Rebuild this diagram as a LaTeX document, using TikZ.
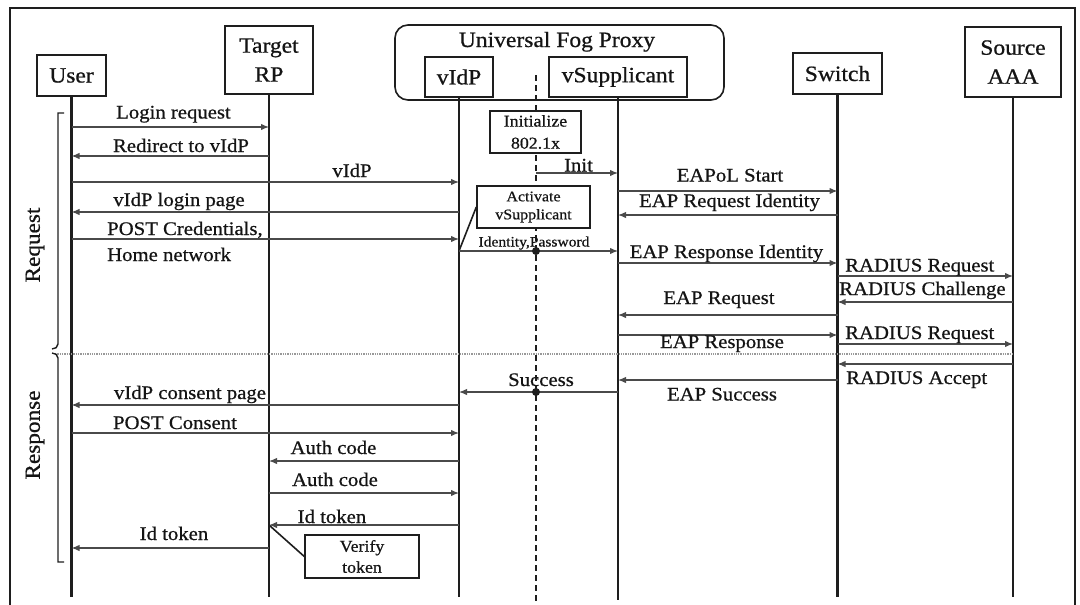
\documentclass[tikz,border=0pt]{standalone}
\usepackage{fontspec}
\setmainfont{Liberation Serif}[FakeStretch=1.08, FakeBold=0.7]
\usetikzlibrary{arrows.meta}

\definecolor{ink}{HTML}{141414}
\definecolor{wire}{HTML}{4A4A4A}
\definecolor{life}{HTML}{1E1E1E}
\definecolor{sep}{HTML}{999999}

\tikzset{
  lbl/.style={font=\fontsize{19.2}{21}\selectfont, inner sep=0pt, text=ink},
  hdrbox/.style={draw=life, line width=1.6pt, fill=white, inner sep=0pt,
    font=\fontsize{21.8}{29}\selectfont, text=ink, align=center},
  notebox/.style={draw=life, line width=1.4pt, fill=white, inner sep=0pt,
    text=ink, align=center},
  lifeline/.style={draw=life, line width=2.3pt},
  msgarrow/.style={draw=wire, line width=1.3pt, -{Latex[length=8pt,width=6.5pt]}},
  linkline/.style={draw=life, line width=1.6pt},
  bracket/.style={draw=life, line width=1.4pt},
  sidelbl/.style={font=\fontsize{21.5}{24}\selectfont, text=ink, rotate=90, inner sep=0pt},
}

\newcommand\sqmsg[3]{\draw[msgarrow] (#1.center |- 0,#3) -- (#2.center |- 0,#3);}

\begin{document}
\begin{tikzpicture}[x=1pt, y=-1pt]
\useasboundingbox (0,0) rectangle (1080,605);

% page frame
\draw[draw=life, line width=1.3pt] (10,605) -- (10,8) -- (1075,8) -- (1075,605);

% participants
\node[hdrbox, minimum width=69pt, minimum height=41pt] (u) at (71.5,75.5) {User};
\node[hdrbox, minimum width=88pt, minimum height=68pt] (rp) at (269,60) {Target\\RP};
\node[draw=life, line width=1.6pt, rounded corners=13pt, minimum width=329pt,
      minimum height=75pt, inner sep=0pt] (proxy) at (559.5,62.5) {};
\node[font=\fontsize{21.8}{24}\selectfont, text=ink, inner sep=0pt, anchor=base]
      (ptitle) at (557,47) {Universal Fog Proxy};
\coordinate (fog) at (536,75);
\draw[draw=life, line width=2pt, dash pattern=on 6pt off 4pt] (fog) -- (fog |- 0,605);
\node[hdrbox, minimum width=68pt, minimum height=40pt] (vidp) at (459,77) {vIdP};
\node[hdrbox, minimum width=138pt, minimum height=40pt] (vsup) at (618,77) {vSupplicant};
\node[hdrbox, minimum width=89pt, minimum height=41pt] (sw) at (837.5,73.5) {Switch};
\node[hdrbox, minimum width=96pt, minimum height=70pt] (aaa) at (1013,62) {Source\\AAA};

% lifelines
\draw[lifeline] (u.south) -- (u.south |- 0,597);
\draw[lifeline] (rp.south) -- (rp.south |- 0,597);
\draw[lifeline] (vidp.south) -- (vidp.south |- 0,597);
\draw[lifeline] (vsup.south) -- (vsup.south |- 0,600);
\draw[lifeline] (sw.south) -- (sw.south |- 0,597);
\draw[lifeline] (aaa.south) -- (aaa.south |- 0,597);

% phase separator
\draw[draw=sep, line width=1.3pt, densely dotted] (55,354) -- (1012,354);

% phase brackets
\draw[bracket] (64,113) -- (58,113) -- (58,344) to[out=-90,in=0] (52,349);
\draw[bracket] (52,353) to[out=0,in=90] (58,358) -- (58,562) -- (64,562);
\node[sidelbl] (req) at (35,245) {Request};
\node[sidelbl] (resp) at (35,435) {Response};

% internal proxy notes
\node[notebox, minimum width=91pt, minimum height=42pt,
      font=\fontsize{16.5}{22}\selectfont] (init) at (535.5,132) {Initialize\\802.1x};
\node[notebox, minimum width=113pt, minimum height=42pt,
      font=\fontsize{14.8}{18}\selectfont] (act) at (533.5,207) {Activate\\vSupplicant};
\node[notebox, minimum width=114pt, minimum height=43pt,
      font=\fontsize{16.5}{21}\selectfont] (ver) at (362,556.5) {Verify\\token};

% request phase
\sqmsg{u}{rp}{127}
\node[lbl, anchor=base] at (173.5,118.5) {Login request};
\sqmsg{rp}{u}{156}
\node[lbl, anchor=base] at (181,152) {Redirect to vIdP};
\sqmsg{u}{vidp}{182}
\node[lbl, anchor=base] at (352,177) {vIdP};
\sqmsg{vidp}{u}{212}
\node[lbl, anchor=base] at (179,206) {vIdP login page};
\sqmsg{u}{vidp}{239}
\node[lbl, anchor=base west] at (107,235) {POST Credentials,};
\node[lbl, anchor=base west] at (107,261) {Home network};

\draw[msgarrow] (fog |- 0,173) -- (vsup.center |- 0,173);
\node[lbl, anchor=base] at (578.5,171.5) {Init};

\draw[linkline] (vidp.center |- 0,251) -- (act.west);
\sqmsg{vidp}{vsup}{251}
\node[font=\fontsize{14.4}{16}\selectfont, text=ink, inner sep=0pt, anchor=base]
      at (534,246.5) {Identity,Password};
\fill[life] (fog |- 0,251) circle[radius=4pt];

\sqmsg{vsup}{sw}{191}
\node[lbl, anchor=base] at (730,181.5) {EAPoL Start};
\sqmsg{sw}{vsup}{215}
\node[lbl, anchor=base] at (729.5,207) {EAP Request Identity};
\sqmsg{vsup}{sw}{263}
\node[lbl, anchor=base] at (726.5,258) {EAP Response Identity};
\sqmsg{sw}{aaa}{276}
\node[lbl, anchor=base west] at (845,271.5) {RADIUS Request};
\sqmsg{aaa}{sw}{302}
\node[lbl, anchor=base west] at (839,295) {RADIUS Challenge};
\sqmsg{sw}{vsup}{315}
\node[lbl, anchor=base] at (719,304) {EAP Request};
\sqmsg{sw}{aaa}{344}
\node[lbl, anchor=base west] at (845,339) {RADIUS Request};
\sqmsg{vsup}{sw}{335}
\node[lbl, anchor=base] at (722,348) {EAP Response};

% response phase
\sqmsg{aaa}{sw}{364}
\node[lbl, anchor=base west] at (846,384) {RADIUS Accept};
\sqmsg{sw}{vsup}{380}
\node[lbl, anchor=base] at (722,400.5) {EAP Success};
\sqmsg{vsup}{vidp}{392}
\node[lbl, anchor=base] at (541,386) {Success};
\fill[life] (fog |- 0,392) circle[radius=4pt];

\sqmsg{vidp}{u}{405}
\node[lbl, anchor=base] at (190,399) {vIdP consent page};
\sqmsg{u}{vidp}{433}
\node[lbl, anchor=base] at (175,429) {POST Consent};
\sqmsg{vidp}{rp}{461}
\node[lbl, anchor=base] at (333.5,454) {Auth code};
\sqmsg{rp}{vidp}{493}
\node[lbl, anchor=base] at (335,486) {Auth code};
\sqmsg{vidp}{rp}{525}
\node[lbl, anchor=base] at (332,523) {Id token};
\draw[linkline] (rp.center |- 0,525) -- (ver.west);
\sqmsg{rp}{u}{548}
\node[lbl, anchor=base] at (174,540) {Id token};
\end{tikzpicture}
\end{document}
